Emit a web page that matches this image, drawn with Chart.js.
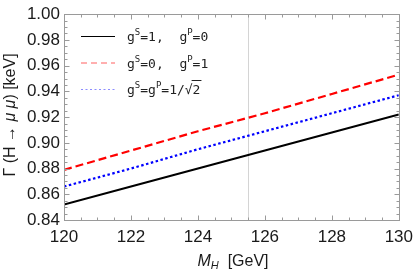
<!DOCTYPE html>
<html>
<head>
<meta charset="utf-8">
<script src="https://cdn.jsdelivr.net/npm/chart.js@4"></script>
<style>
  html, body { margin: 0; padding: 0; background: #fff; }
  #wrap { width: 420px; height: 272px; }
</style>
</head>
<body>
<div id="wrap"><canvas id="chart"></canvas></div>
<script>
// Higgs mass (GeV)
const massValues = [120, 122, 124, 126, 128, 130];

// decay width (keV) for each coupling choice
const widthScalar = [0.852, 0.866, 0.880, 0.894, 0.908, 0.922];
const widthPseudo = [0.879, 0.894, 0.909, 0.923, 0.938, 0.953];
const widthMixed = [0.866, 0.880, 0.895, 0.909, 0.923, 0.937];

const seriesLabels = ['gS=1, gP=0', 'gS=0, gP=1', 'gS=gP=1/√2'];

const yTickLabels = ['0.84', '0.86', '0.88', '0.90', '0.92', '0.94', '0.96', '0.98', '1.00'];
const xTickLabels = ['120', '122', '124', '126', '128', '130'];

const measuredMass = 125.5;

function toPoints(ys) {
    return massValues.map((m, i) => ({ x: m, y: ys[i] }));
}

// pieces of a legend label, superscripts marked
const legendPieces = [
    [['g'], ['S', 1], ['=1,  g'], ['P', 1], ['=0']],
    [['g'], ['S', 1], ['=0,  g'], ['P', 1], ['=1']],
    [['g'], ['S', 1], ['=g'], ['P', 1], ['=1/√2']]
];

// draws text runs left to right, returns end x
function drawRuns(ctx, runs, x, y) {
    runs.forEach(r => {
        ctx.font = r.font;
        ctx.fillText(r.text, x, y + (r.dy || 0));
        x += ctx.measureText(r.text).width;
    });
    return x;
}

// frame, inward ticks (major + minor), reference line and axis titles
const framePlugin = {
    id: 'frame',
    beforeDatasetsDraw(chart) {
        const { ctx, chartArea: a, scales } = chart;
        ctx.save();
        const mx = Math.round(scales.x.getPixelForValue(measuredMass)) + 0.5;
        ctx.strokeStyle = '#d4d4d4';
        ctx.lineWidth = 1;
        ctx.beginPath();
        ctx.moveTo(mx, a.top);
        ctx.lineTo(mx, a.bottom);
        ctx.stroke();
        ctx.restore();
    },
    afterDatasetsDraw(chart) {
        const { ctx, chartArea: a, scales } = chart;
        const xs = scales.x, ys = scales.y;
        ctx.save();
        ctx.strokeStyle = '#9a9a9a';
        ctx.lineWidth = 1;
        const L = Math.round(a.left) + 0.5, R = Math.round(a.right) + 0.5;
        const T = Math.round(a.top) + 0.5, B = Math.round(a.bottom) + 0.5;
        ctx.strokeRect(L, T, R - L, B - T);

        ctx.beginPath();
        // x ticks every 0.5, major every 2
        for (let v = 120; v <= 130.001; v += 0.5) {
            const px = Math.round(xs.getPixelForValue(v)) + 0.5;
            const len = (Math.abs(v % 2) < 0.001) ? 5 : 3;
            ctx.moveTo(px, B); ctx.lineTo(px, B - len);
            ctx.moveTo(px, T); ctx.lineTo(px, T + len);
        }
        // y ticks every 0.005, major every 0.02
        for (let k = 0; k <= 32; k++) {
            const py = Math.round(ys.getPixelForValue(0.84 + k * 0.005)) + 0.5;
            const len = (k % 4 === 0) ? 5 : 3;
            ctx.moveTo(L, py); ctx.lineTo(L + len, py);
            ctx.moveTo(R, py); ctx.lineTo(R - len, py);
        }
        ctx.stroke();

        // axis titles (italic symbols need mixed fonts)
        const sans = '"Liberation Sans", Arial';
        ctx.fillStyle = '#1a1a1a';
        ctx.textBaseline = 'alphabetic';
        const xRuns = [
            { text: 'M', font: 'italic 16px ' + sans },
            { text: 'H', font: 'italic 11px ' + sans, dy: 3 },
            { text: '  [GeV]', font: '16px ' + sans }
        ];
        let w = 0;
        xRuns.forEach(r => { ctx.font = r.font; w += ctx.measureText(r.text).width; });
        drawRuns(ctx, xRuns, 233 - w / 2, 266);

        const yRuns = [
            { text: 'Γ (H → ', font: '16px ' + sans },
            { text: 'μ μ', font: 'italic 16px ' + sans },
            { text: ') [keV]', font: '16px ' + sans }
        ];
        w = 0;
        yRuns.forEach(r => { ctx.font = r.font; w += ctx.measureText(r.text).width; });
        ctx.translate(15, 115);
        ctx.rotate(-Math.PI / 2);
        drawRuns(ctx, yRuns, -w / 2, 0);
        ctx.restore();
    }
};

// legend drawn inside the plot, top-left
const legendPlugin = {
    id: 'innerLegend',
    afterDraw(chart) {
        const { ctx } = chart;
        const rows = [
            { color: '#000000', dash: [], y: 36 },
            { color: '#ff6060', dash: [6, 4], y: 62.5 },
            { color: '#8c8cff', dash: [2, 2.5], y: 89 }
        ];
        const mono = '"DejaVu Sans Mono"';
        ctx.save();
        ctx.textBaseline = 'alphabetic';
        rows.forEach((r, i) => {
            ctx.strokeStyle = r.color;
            ctx.lineWidth = 1.2;
            ctx.setLineDash(r.dash);
            ctx.beginPath();
            ctx.moveTo(81, r.y + 0.5);
            ctx.lineTo(115, r.y + 0.5);
            ctx.stroke();
            ctx.setLineDash([]);
            ctx.fillStyle = '#222';
            const runs = legendPieces[i].map(p => p[1]
                ? { text: p[0], font: '9px ' + mono, dy: -6 }
                : { text: p[0], font: '13px ' + mono });
            const end = drawRuns(ctx, runs, 127, r.y + 5);
            if (i === 2) {
                // overline of the square root
                ctx.font = '13px ' + mono;
                const w2 = ctx.measureText('2').width;
                ctx.strokeStyle = '#222';
                ctx.lineWidth = 1;
                ctx.beginPath();
                ctx.moveTo(end - w2 - 1, r.y - 8.5);
                ctx.lineTo(end + 1, r.y - 8.5);
                ctx.stroke();
            }
        });
        ctx.restore();
    }
};

const ctx = document.getElementById('chart').getContext('2d');
new Chart(ctx, {
    type: 'line',
    data: {
        datasets: [
            {
                label: seriesLabels[0],
                data: toPoints(widthScalar),
                borderColor: '#000000',
                borderWidth: 2,
                pointRadius: 0,
                fill: false
            },
            {
                label: seriesLabels[1],
                data: toPoints(widthPseudo),
                borderColor: '#ff0000',
                borderWidth: 2.2,
                borderDash: [8, 4],
                pointRadius: 0,
                fill: false
            },
            {
                label: seriesLabels[2],
                data: toPoints(widthMixed),
                borderColor: '#0000ff',
                borderWidth: 2.2,
                borderDash: [2.5, 2.5],
                pointRadius: 0,
                fill: false
            }
        ]
    },
    options: {
        responsive: true,
        maintainAspectRatio: false,
        animation: false,
        layout: { padding: { top: 10, right: 15, left: 0, bottom: 0 } },
        plugins: {
            legend: { display: false },
            tooltip: { enabled: false }
        },
        scales: {
            x: {
                type: 'linear',
                min: 120,
                max: 130,
                afterFit: s => { s.height = 52; },
                afterBuildTicks: s => {
                    s.ticks = xTickLabels.map(t => ({ value: Number(t) }));
                },
                grid: { display: false, drawTicks: false },
                border: { display: false },
                ticks: {
                    padding: 7,
                    color: '#1a1a1a',
                    font: { family: '"Liberation Sans", Arial', size: 17 },
                    maxRotation: 0,
                    callback: v => xTickLabels.find(t => Number(t) === v) || ''
                }
            },
            y: {
                type: 'linear',
                min: 0.84,
                max: 1.0,
                afterFit: s => { s.width = 64; },
                afterBuildTicks: s => {
                    s.ticks = yTickLabels.map(t => ({ value: Number(t) }));
                },
                grid: { display: false, drawTicks: false },
                border: { display: false },
                ticks: {
                    padding: 4,
                    color: '#1a1a1a',
                    font: { family: '"Liberation Sans", Arial', size: 17 },
                    callback: v => yTickLabels.find(t => Number(t) === Number(v.toFixed(2))) || ''
                }
            }
        }
    },
    plugins: [framePlugin, legendPlugin]
});
</script>
</body>
</html>
